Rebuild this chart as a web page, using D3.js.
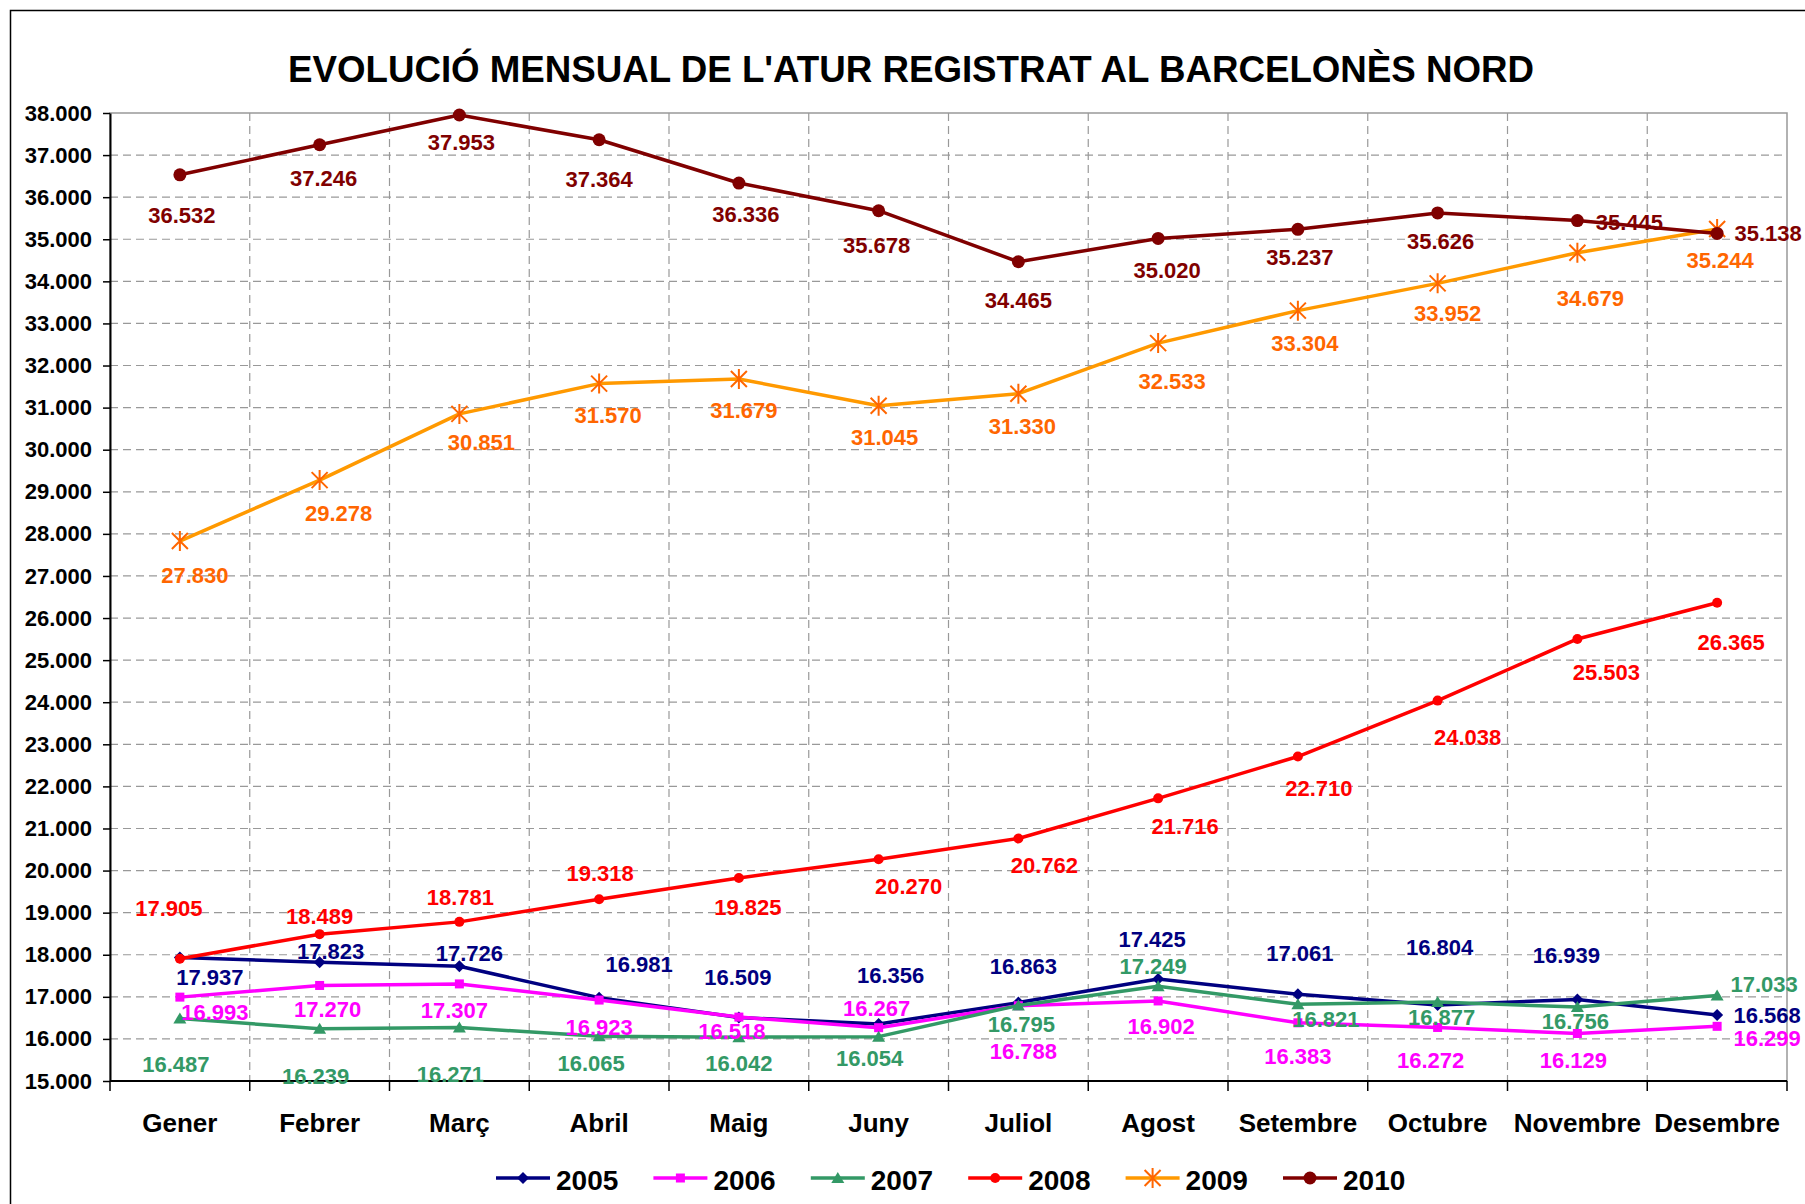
<!DOCTYPE html>
<html>
<head>
<meta charset="utf-8">
<script src="https://cdn.jsdelivr.net/npm/d3@7"></script>
<style>
  html, body { margin: 0; padding: 0; background: #fff; }
  svg { display: block; font-family: "Liberation Sans", Arial, sans-serif; }
</style>
</head>
<body>
<svg id="chart" width="1805" height="1204"></svg>
<script>
// ---------------- DATA ----------------
const title = "EVOLUCIÓ MENSUAL DE L'ATUR REGISTRAT AL BARCELONÈS NORD";
const months = ["Gener", "Febrer", "Març", "Abril", "Maig", "Juny", "Juliol", "Agost", "Setembre", "Octubre", "Novembre", "Desembre"];
const years = ["2005", "2006", "2007", "2008", "2009", "2010"];
const v2005 = [17937, 17823, 17726, 16981, 16509, 16356, 16863, 17425, 17061, 16804, 16939, 16568];
const v2006 = [16993, 17270, 17307, 16923, 16518, 16267, 16788, 16902, 16383, 16272, 16129, 16299];
const v2007 = [16487, 16239, 16271, 16065, 16042, 16054, 16795, 17249, 16821, 16877, 16756, 17033];
const v2008 = [17905, 18489, 18781, 19318, 19825, 20270, 20762, 21716, 22710, 24038, 25503, 26365];
const v2009 = [27830, 29278, 30851, 31570, 31679, 31045, 31330, 32533, 33304, 33952, 34679, 35244];
const v2010 = [36532, 37246, 37953, 37364, 36336, 35678, 34465, 35020, 35237, 35626, 35445, 35138];
const yTicks = d3.range(15000, 38001, 1000);

// ---------------- LAYOUT / STYLE ----------------
const seriesValues = [v2005, v2006, v2007, v2008, v2009, v2010];
const lineColors  = ["#000080", "#FF00FF", "#339966", "#FF0000", "#FF9900", "#800000"];
const labelColors = ["#000080", "#FF00FF", "#339966", "#FF0000", "#FF6600", "#800000"];
const markerColors = ["#000080", "#FF00FF", "#339966", "#FF0000", "#FF6600", "#800000"];
const markerTypes = ["diamond", "square", "triangle", "smallcircle", "asterisk", "circle"];
// label offsets (px) relative to each point, per series
const labelOffsets = [
  [[30,20],[11,-11],[10,-13],[40,-34],[-1,-40],[12,-49],[5,-37],[-6,-40],[2,-41],[2,-58],[-11,-44],[50,0]],
  [[35,15],[8,24],[-5,26],[0,27],[-7,14],[-2,-20],[5,45],[3,25],[0,33],[-7,33],[-4,27],[50,12]],
  [[-4,46],[-4,47],[-9,47],[-8,27],[0,26],[-9,21],[3,19],[-5,-20],[28,15],[4,15],[-2,14],[47,-11]],
  [[-11,-51],[0,-18],[1,-25],[1,-26],[9,29],[30,27],[26,27],[27,28],[21,32],[30,36],[29,33],[14,39]],
  [[15,34],[19,33],[22,28],[9,31],[5,31],[6,31],[4,32],[14,38],[7,32],[10,30],[13,45],[3,31]],
  [[2,40],[4,33],[2,27],[0,39],[7,31],[-2,34],[0,38],[9,32],[2,28],[3,28],[52,2],[51,0]]
];

const plot = { left: 110, right: 1787, top: 113, bottom: 1081 };
const svg = d3.select("#chart");

const fmt = d3.formatLocale({ decimal: ",", thousands: ".", grouping: [3], currency: ["", "€"] }).format(",d");

const x = d3.scaleBand().domain(months).range([plot.left, plot.right]).padding(0);
const y = d3.scaleLinear().domain([15000, 38000]).range([plot.bottom, plot.top]);
const cx = m => x(m) + x.bandwidth() / 2;

// outer border
svg.append("rect").attr("x", 10.5).attr("y", 10.5).attr("width", 1900).attr("height", 1300)
  .attr("fill", "#fff").attr("stroke", "#000").attr("stroke-width", 1.5);

// title
svg.append("text").attr("x", 911).attr("y", 82).attr("text-anchor", "middle")
  .attr("font-size", 36).attr("font-weight", "bold").attr("fill", "#000")
  .attr("textLength", 1246).attr("lengthAdjust", "spacingAndGlyphs")
  .text(title);

// plot background
svg.append("rect").attr("x", plot.left).attr("y", plot.top)
  .attr("width", plot.right - plot.left).attr("height", plot.bottom - plot.top)
  .attr("fill", "#fff").attr("stroke", "#999").attr("stroke-width", 1.5);

// horizontal gridlines
svg.append("g").selectAll("line").data(yTicks.filter(t => t > 15000 && t < 38000)).join("line")
  .attr("x1", plot.left).attr("x2", plot.right)
  .attr("y1", d => y(d)).attr("y2", d => y(d))
  .attr("stroke", "#999").attr("stroke-width", 1.2).attr("stroke-dasharray", "8,5");

// vertical gridlines at band boundaries
svg.append("g").selectAll("line").data(months.slice(1)).join("line")
  .attr("x1", d => x(d)).attr("x2", d => x(d))
  .attr("y1", plot.top).attr("y2", plot.bottom)
  .attr("stroke", "#999").attr("stroke-width", 1.2).attr("stroke-dasharray", "8,5");

// y axis
const yAxis = d3.axisLeft(y).tickValues(yTicks).tickFormat(fmt).tickSize(7).tickSizeOuter(0).tickPadding(11);
const gy = svg.append("g").attr("transform", `translate(${plot.left},0)`).call(yAxis);
gy.select(".domain").attr("stroke", "#000").attr("stroke-width", 2);
gy.selectAll(".tick line").attr("stroke", "#000").attr("stroke-width", 1.5);
gy.selectAll(".tick text").attr("font-size", 22).attr("font-weight", "bold")
  .attr("font-family", "Liberation Sans, Arial, sans-serif").attr("fill", "#000");

// x axis line + boundary ticks
svg.append("line").attr("x1", plot.left).attr("x2", plot.right)
  .attr("y1", plot.bottom).attr("y2", plot.bottom).attr("stroke", "#000").attr("stroke-width", 2);
const boundaries = months.map(m => x(m)).concat([x(months[months.length - 1]) + x.bandwidth()]);
svg.append("g").selectAll("line").data(boundaries).join("line")
  .attr("x1", d => d).attr("x2", d => d).attr("y1", plot.bottom).attr("y2", plot.bottom + 10)
  .attr("stroke", "#000").attr("stroke-width", 1.5);
svg.append("g").selectAll("text").data(months).join("text")
  .attr("x", d => cx(d)).attr("y", 1132).attr("text-anchor", "middle")
  .attr("font-size", 26).attr("font-weight", "bold").attr("fill", "#000").text(d => d);

// marker drawing
function drawMarker(g, type, color) {
  if (type === "diamond") {
    g.append("path").attr("d", "M0,-6L6,0L0,6L-6,0Z").attr("fill", color);
  } else if (type === "square") {
    g.append("rect").attr("x", -4.5).attr("y", -4.5).attr("width", 9).attr("height", 9).attr("fill", color);
  } else if (type === "triangle") {
    g.append("path").attr("d", "M0,-6L6.5,5L-6.5,5Z").attr("fill", color);
  } else if (type === "smallcircle") {
    g.append("circle").attr("r", 5).attr("fill", color);
  } else if (type === "circle") {
    g.append("circle").attr("r", 6.5).attr("fill", color);
  } else if (type === "asterisk") {
    g.append("path").attr("d", "M0,-10L0,10M-8,-8L8,8M-8,8L8,-8")
      .attr("stroke", color).attr("stroke-width", 2).attr("fill", "none");
  }
}

const line = d3.line().x((d, i) => cx(months[i])).y(d => y(d));

// series lines + markers
seriesValues.forEach((vals, s) => {
  const g = svg.append("g");
  g.append("path").datum(vals).attr("d", line).attr("fill", "none")
    .attr("stroke", lineColors[s]).attr("stroke-width", 3.5).attr("stroke-linejoin", "round");
  vals.forEach((v, i) => {
    const mg = g.append("g").attr("transform", `translate(${cx(months[i])},${y(v)})`);
    drawMarker(mg, markerTypes[s], markerColors[s]);
  });
});

// data labels
seriesValues.forEach((vals, s) => {
  svg.append("g").selectAll("text").data(vals).join("text")
    .attr("x", (d, i) => cx(months[i]) + labelOffsets[s][i][0])
    .attr("y", (d, i) => y(d) + labelOffsets[s][i][1])
    .attr("dy", "0.36em").attr("text-anchor", "middle")
    .attr("font-size", 22).attr("font-weight", "bold").attr("fill", labelColors[s])
    .text(d => fmt(d));
});

// legend
const legend = svg.append("g");
years.forEach((yr, s) => {
  const lx = 496 + s * 157.4, ly = 1178;
  const g = legend.append("g").attr("transform", `translate(${lx},${ly})`);
  g.append("line").attr("x1", 0).attr("x2", 54).attr("y1", 0).attr("y2", 0)
    .attr("stroke", lineColors[s]).attr("stroke-width", 3.5);
  const mg = g.append("g").attr("transform", "translate(27,0)");
  drawMarker(mg, markerTypes[s], markerColors[s]);
  g.append("text").attr("x", 60).attr("y", 12).attr("font-size", 28).attr("font-weight", "bold")
    .attr("fill", "#000").text(yr);
});
</script>
</body>
</html>
